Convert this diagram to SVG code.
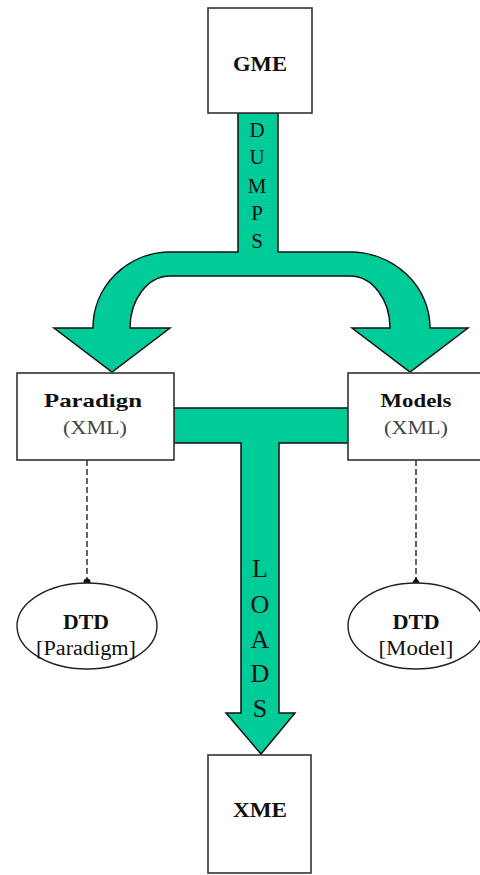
<svg xmlns="http://www.w3.org/2000/svg" width="480" height="875" viewBox="0 0 480 875">
<style>
.box{fill:#fff;stroke:#333;stroke-width:1.6}
.ell{fill:#fff;stroke:#222;stroke-width:1.4}
.arrow{fill:#00CC99;stroke:#111;stroke-width:1.5;stroke-linejoin:miter}
.dash{stroke:#333;stroke-width:1.5;stroke-dasharray:6 3;fill:none}
text{font-family:"Liberation Serif","Times New Roman",serif;fill:#111;text-anchor:middle}
.b{font-weight:bold}
.lbl{font-size:22px}
.sm{font-size:19px}
.g{fill:#444}
.vert{font-size:21px;fill:#0b3b2c}
.vert2{font-size:26px;fill:#0b3b2c}
</style>
<rect width="480" height="875" fill="#fff"/>
<g id="connectors">
  <path id="dumps" class="arrow" d="M238,113 V252 H170 A77 76 0 0 0 93,328 H54 L112,372 L170,328 H130 A40 52 0 0 1 170,276 H350 A40 52 0 0 1 390,328 H352 L410,372 L468,328 H430 A80 76 0 0 0 350,252 H278 V113 Z"/>
  <g class="vert">
    <text x="257" y="137">D</text>
    <text x="257" y="164">U</text>
    <text x="257" y="193">M</text>
    <text x="257" y="220">P</text>
    <text x="257" y="248">S</text>
  </g>
  <path id="loads" class="arrow" d="M174,408 H348 V443 H279 V713 H295 L261,754 L226,713 H241 V443 H174 Z"/>
  <g class="vert2">
    <text x="260" y="577">L</text>
    <text x="260" y="613">O</text>
    <text x="260" y="648">A</text>
    <text x="260" y="682">D</text>
    <text x="260" y="717">S</text>
  </g>
  <line class="dash" x1="87" y1="460" x2="87" y2="582"/>
  <line class="dash" x1="416" y1="460" x2="416" y2="580"/>
  <circle cx="87" cy="582" r="3.5" fill="#111"/>
  <path d="M412,583 L416,577 L420,583 Z" fill="#111"/>
</g>
<g id="gme">
  <rect class="box" x="208" y="8" width="104" height="105"/>
  <text class="b lbl" x="260" y="71" textLength="54" lengthAdjust="spacingAndGlyphs">GME</text>
</g>
<g id="paradigm">
  <rect class="box" x="17" y="373" width="157" height="87"/>
  <text class="b sm" x="93" y="407" textLength="98" lengthAdjust="spacingAndGlyphs">Paradign</text>
  <text class="sm g" x="95" y="434" textLength="64" lengthAdjust="spacingAndGlyphs">(XML)</text>
</g>
<g id="models">
  <rect class="box" x="348" y="373" width="140" height="87"/>
  <text class="b sm" x="416" y="407" textLength="71" lengthAdjust="spacingAndGlyphs">Models</text>
  <text class="sm g" x="416" y="434" textLength="64" lengthAdjust="spacingAndGlyphs">(XML)</text>
</g>
<g id="dtd-paradigm">
  <ellipse class="ell" cx="87" cy="626" rx="70" ry="43"/>
  <text class="b" x="86" y="629" font-size="20" textLength="46" lengthAdjust="spacingAndGlyphs">DTD</text>
  <text x="86" y="655" font-size="20" textLength="100" lengthAdjust="spacingAndGlyphs">[Paradigm]</text>
</g>
<g id="dtd-model">
  <ellipse class="ell" cx="416" cy="626" rx="68" ry="43"/>
  <text class="b" x="416" y="629" font-size="20" textLength="47" lengthAdjust="spacingAndGlyphs">DTD</text>
  <text x="416" y="655" font-size="20" textLength="75" lengthAdjust="spacingAndGlyphs">[Model]</text>
</g>
<g id="xme">
  <rect class="box" x="208" y="755" width="103" height="118"/>
  <text class="b lbl" x="260" y="817" textLength="54" lengthAdjust="spacingAndGlyphs">XME</text>
</g>
</svg>
